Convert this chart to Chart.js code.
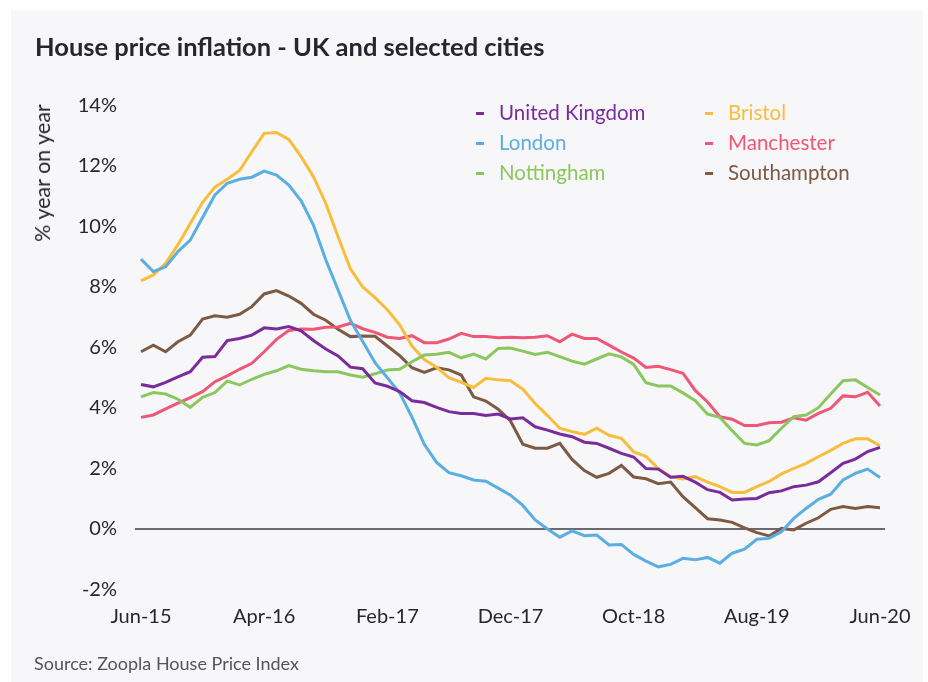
<!DOCTYPE html>
<html>
<head>
<meta charset="utf-8">
<script src="https://cdn.jsdelivr.net/npm/chart.js@4.4.1/dist/chart.umd.min.js"></script>
<style>
  html, body { margin: 0; padding: 0; background: #fff; }
  body { width: 928px; height: 682px; position: relative; overflow: hidden; font-family: Lato, sans-serif; }
  .panel { position: absolute; left: 11px; top: 10px; width: 912px; height: 672px; background: #f7f7f9; }
  #chart { position: absolute; left: 0; top: 0; }
  .title { position: absolute; left: 35px; top: 31px; font-size: 25.5px; font-weight: 700; color: #26262e; line-height: 30px; white-space: nowrap; }
  .ytitle { position: absolute; left: 42px; top: 173px; transform: translate(-50%, -50%) rotate(-90deg); font-size: 21.5px; color: #26262e; white-space: nowrap; }
  .source { position: absolute; left: 34px; top: 652px; font-size: 18px; line-height: 22px; color: #555; white-space: nowrap; }
  .legend { position: absolute; font-size: 20.5px; line-height: 24px; white-space: nowrap; }
  .legend i { display: inline-block; width: 8px; height: 3px; vertical-align: middle; margin-right: 15px; position: relative; top: -1px; }
</style>
</head>
<body>
<div class="panel"></div>
<canvas id="chart" width="928" height="682"></canvas>
<div class="title">House price inflation - UK and selected cities</div>
<div class="ytitle">% year on year</div>
<div id="legend"></div>
<div class="source">Source: Zoopla House Price Index</div>
<script>
/* House price inflation, % year on year, monthly Jun-15 .. Jun-20 */

const months = [
  'Jun-15','Jul-15','Aug-15','Sep-15','Oct-15','Nov-15','Dec-15','Jan-16','Feb-16','Mar-16',
  'Apr-16','May-16','Jun-16','Jul-16','Aug-16','Sep-16','Oct-16','Nov-16','Dec-16','Jan-17',
  'Feb-17','Mar-17','Apr-17','May-17','Jun-17','Jul-17','Aug-17','Sep-17','Oct-17','Nov-17',
  'Dec-17','Jan-18','Feb-18','Mar-18','Apr-18','May-18','Jun-18','Jul-18','Aug-18','Sep-18',
  'Oct-18','Nov-18','Dec-18','Jan-19','Feb-19','Mar-19','Apr-19','May-19','Jun-19','Jul-19',
  'Aug-19','Sep-19','Oct-19','Nov-19','Dec-19','Jan-20','Feb-20','Mar-20','Apr-20','May-20',
  'Jun-20'
];

const yTicks = [-2, 0, 2, 4, 6, 8, 10, 12, 14];

const ukData = [
  4.78, 4.70, 4.85, 5.03, 5.20, 5.68, 5.70, 6.23, 6.30, 6.41,
  6.65, 6.61, 6.69, 6.55, 6.23, 5.95, 5.72, 5.35, 5.30, 4.83,
  4.72, 4.54, 4.24, 4.18, 4.02, 3.88, 3.82, 3.82, 3.75, 3.80,
  3.64, 3.68, 3.38, 3.27, 3.14, 3.05, 2.87, 2.83, 2.67, 2.50,
  2.38, 2.00, 1.98, 1.71, 1.74, 1.55, 1.30, 1.21, 0.96, 0.99,
  1.01, 1.20, 1.26, 1.40, 1.45, 1.56, 1.86, 2.17, 2.31, 2.56,
  2.70
];

const londonData = [
  8.92, 8.51, 8.67, 9.17, 9.55, 10.30, 11.04, 11.43, 11.56, 11.63,
  11.83, 11.70, 11.37, 10.85, 10.05, 8.90, 7.90, 6.90, 6.20, 5.50,
  5.00, 4.50, 3.70, 2.80, 2.20, 1.86, 1.76, 1.62, 1.58, 1.35,
  1.12, 0.78, 0.30, 0.00, -0.27, -0.06, -0.22, -0.20, -0.53, -0.51,
  -0.84, -1.06, -1.25, -1.17, -0.97, -1.02, -0.94, -1.13, -0.80, -0.67,
  -0.34, -0.31, -0.09, 0.35, 0.68, 0.98, 1.15, 1.62, 1.84, 1.98,
  1.70
];

const nottinghamData = [
  4.37, 4.51, 4.46, 4.29, 4.02, 4.35, 4.51, 4.89, 4.76, 4.95,
  5.11, 5.23, 5.40, 5.28, 5.23, 5.20, 5.20, 5.09, 5.02, 5.13,
  5.26, 5.28, 5.53, 5.75, 5.78, 5.84, 5.66, 5.78, 5.62, 5.97,
  5.98, 5.88, 5.77, 5.84, 5.70, 5.55, 5.45, 5.62, 5.79, 5.69,
  5.44, 4.84, 4.73, 4.73, 4.50, 4.24, 3.80, 3.69, 3.25, 2.83,
  2.78, 2.92, 3.33, 3.71, 3.77, 4.01, 4.46, 4.90, 4.93, 4.68,
  4.43
];

const bristolData = [
  8.20, 8.40, 8.78, 9.40, 10.10, 10.80, 11.30, 11.56, 11.85, 12.47,
  13.08, 13.11, 12.88, 12.31, 11.65, 10.77, 9.66, 8.60, 8.00, 7.65,
  7.25, 6.75, 6.05, 5.60, 5.35, 5.00, 4.85, 4.68, 4.98, 4.93,
  4.90, 4.62, 4.15, 3.75, 3.33, 3.22, 3.13, 3.33, 3.10, 3.00,
  2.55, 2.40, 2.00, 1.73, 1.65, 1.73, 1.55, 1.40, 1.21, 1.21,
  1.40, 1.57, 1.82, 2.00, 2.17, 2.39, 2.60, 2.83, 2.98, 2.98,
  2.75
];

const manchesterData = [
  3.69, 3.77, 3.97, 4.16, 4.34, 4.54, 4.87, 5.06, 5.28, 5.48,
  5.86, 6.27, 6.56, 6.61, 6.60, 6.67, 6.68, 6.80, 6.62, 6.50,
  6.34, 6.30, 6.39, 6.16, 6.16, 6.28, 6.47, 6.36, 6.36, 6.32,
  6.34, 6.32, 6.34, 6.39, 6.19, 6.44, 6.30, 6.30, 6.08, 5.85,
  5.65, 5.34, 5.38, 5.27, 5.15, 4.58, 4.20, 3.71, 3.63, 3.42,
  3.42, 3.51, 3.53, 3.68, 3.60, 3.82, 3.99, 4.40, 4.37, 4.52,
  4.07
];

const southamptonData = [
  5.86, 6.08, 5.86, 6.19, 6.41, 6.94, 7.05, 7.00, 7.10, 7.35,
  7.77, 7.88, 7.70, 7.46, 7.10, 6.90, 6.60, 6.36, 6.38, 6.37,
  6.05, 5.73, 5.33, 5.18, 5.33, 5.26, 5.09, 4.37, 4.23, 3.96,
  3.57, 2.80, 2.67, 2.67, 2.83, 2.30, 1.93, 1.71, 1.84, 2.10,
  1.72, 1.66, 1.50, 1.55, 1.07, 0.71, 0.34, 0.30, 0.22, 0.04,
  -0.12, -0.23, 0.02, -0.03, 0.19, 0.37, 0.65, 0.74, 0.68, 0.74,
  0.70
];

const COLORS = {
  uk: '#7a2c9a',
  london: '#5aaee0',
  nottingham: '#8bc75f',
  bristol: '#f6be3c',
  manchester: '#ef5777',
  southampton: '#7d5a43',
  text: '#26262e',
  zero: '#3a3a42'
};

const series = [
  { label: 'United Kingdom', data: ukData, color: COLORS.uk, col: 0, row: 0 },
  { label: 'London', data: londonData, color: COLORS.london, col: 0, row: 1 },
  { label: 'Nottingham', data: nottinghamData, color: COLORS.nottingham, col: 0, row: 2 },
  { label: 'Bristol', data: bristolData, color: COLORS.bristol, col: 1, row: 0 },
  { label: 'Manchester', data: manchesterData, color: COLORS.manchester, col: 1, row: 1 },
  { label: 'Southampton', data: southamptonData, color: COLORS.southampton, col: 1, row: 2 }
];

// legend (two columns, coloured text)
const legend = document.getElementById('legend');
series.forEach(s => {
  const el = document.createElement('div');
  el.className = 'legend';
  el.style.left = (s.col === 0 ? 476 : 705) + 'px';
  el.style.top = (100 + s.row * 30) + 'px';
  el.style.color = s.color;
  el.innerHTML = '<i style="background:' + s.color + '"></i>' + s.label;
  legend.appendChild(el);
});

// zero line, drawn through the y scale
const zeroLine = {
  id: 'zeroLine',
  beforeDatasetsDraw(chart) {
    const { ctx, chartArea, scales } = chart;
    const y = scales.y.getPixelForValue(0);
    ctx.save();
    ctx.strokeStyle = COLORS.zero;
    ctx.lineWidth = 1.5;
    ctx.beginPath();
    ctx.moveTo(chartArea.left - 6, y);
    ctx.lineTo(chartArea.right + 5, y);
    ctx.stroke();
    ctx.restore();
  }
};

new Chart(document.getElementById('chart'), {
  type: 'line',
  data: {
    labels: months,
    datasets: series.map(s => ({
      label: s.label,
      data: s.data,
      borderColor: s.color,
      backgroundColor: s.color,
      borderWidth: 3,
      pointRadius: 0,
      tension: 0,
      fill: false
    }))
  },
  options: {
    responsive: false,
    animation: false,
    layout: { padding: { left: 0, right: 48, top: 105.5, bottom: 52.5 } },
    plugins: {
      legend: { display: false },
      tooltip: { enabled: false }
    },
    scales: {
      x: {
        offset: false,
        grid: { display: false, drawTicks: false },
        border: { display: false },
        afterFit: scale => { scale.height = 40; },
        ticks: {
          autoSkip: false,
          maxRotation: 0,
          padding: 15,
          color: COLORS.text,
          font: { family: 'Lato', size: 20 },
          callback: (v, i) => (i % 10 === 0 ? months[i] : '')
        }
      },
      y: {
        min: yTicks[0],
        max: yTicks[yTicks.length - 1],
        grid: { display: false, drawTicks: false },
        border: { display: false },
        afterFit: scale => { scale.width = 141; },
        afterBuildTicks: scale => { scale.ticks = yTicks.map(v => ({ value: v })); },
        ticks: {
          padding: 24,
          color: COLORS.text,
          font: { family: 'Lato', size: 20 },
          callback: v => v + '%'
        }
      }
    }
  },
  plugins: [zeroLine]
});
</script>
</body>
</html>
